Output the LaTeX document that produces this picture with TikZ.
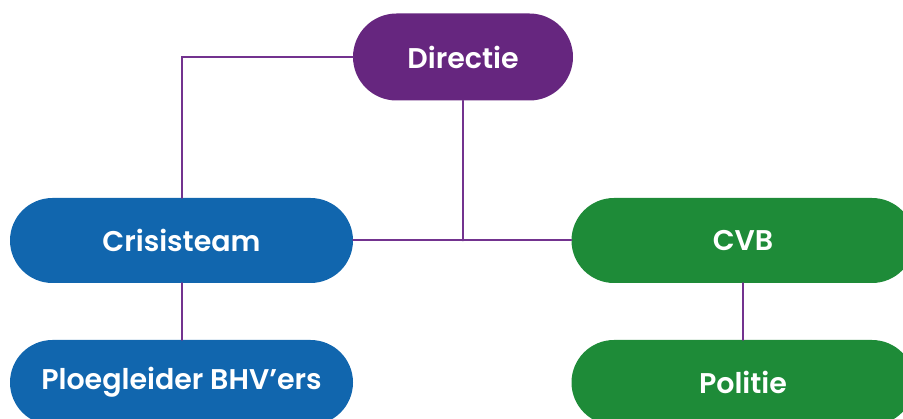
\documentclass[tikz,border=0pt]{standalone}
\usepackage{fontspec}
\setmainfont{Poppins}[BoldFont={Poppins SemiBold}]
\usepackage{tikz}

\begin{document}
\begin{tikzpicture}
		[x=1pt,y=-1pt,line cap=round,
		%Styles
		link/.style={line width=2pt,color=linkcolor},
		org box/.style={rectangle,rounded corners=42.5pt,minimum width=343pt,minimum height=85pt,inner sep=0pt,text=white,font=\fontsize{28.5}{33}\selectfont\bfseries},
		top box/.style={org box,rounded corners=43.5pt,minimum width=220pt,minimum height=87pt}
		]
		
		%Colors
		\definecolor{linkcolor}{HTML}{73338F}	%connecting lines
		\definecolor{topcolor}{HTML}{66267F}
		\definecolor{leftcolor}{HTML}{1166AE}
		\definecolor{rightcolor}{HTML}{1E8B38}
		
		\useasboundingbox (0,0) rectangle (903,419);
		
		%The graphic
		\node[top box,fill=topcolor] (directie) at (463,57) {Directie};
		\node[org box,fill=leftcolor] (crisisteam) at (181.5,240.5) {Crisisteam};
		\node[org box,fill=rightcolor] (cvb) at (743,240.5) {CVB};
		\node[org box,fill=leftcolor] (ploegleider) at (181.5,382.5) {Ploegleider BHV’ers};
		\node[org box,fill=rightcolor] (politie) at (743,382.5) {Politie};
		
		\draw[link] (directie.west) -| (crisisteam.north);
		\draw[link] (directie.south) -- (directie.south |- crisisteam.east);
		\draw[link] (crisisteam.east) -- (cvb.west);
		\draw[link] (crisisteam.south) -- (ploegleider.north);
		\draw[link] (cvb.south) -- (politie.north);
	\end{tikzpicture}
\end{document}
